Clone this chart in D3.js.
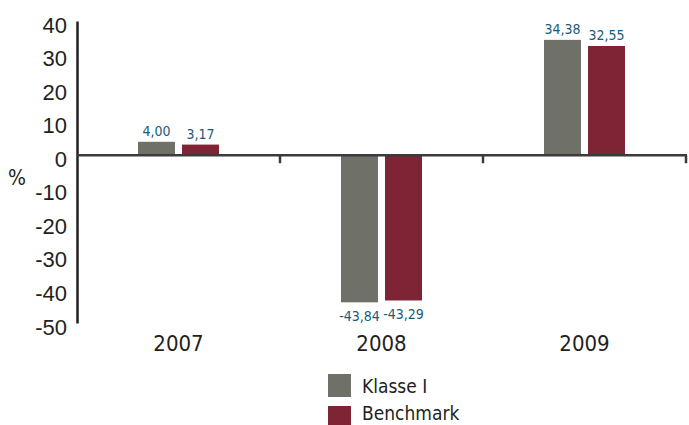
<!DOCTYPE html>
<html>
<head>
<meta charset="utf-8">
<script src="https://cdn.jsdelivr.net/npm/d3@7"></script>
<style>
  body { margin: 0; background: #fff; }
  svg { display: block; font-family: "DejaVu Sans", sans-serif; font-stretch: condensed; }
</style>
</head>
<body>
<div id="chart"></div>
<script>
// data
const years = ['2007', '2008', '2009'];
const seriesNames = ['Klasse I', 'Benchmark'];
const klasse = [4.00, -43.84, 34.38];
const benchmark = [3.17, -43.29, 32.55];
const yTicks = [40, 30, 20, 10, 0, -10, -20, -30, -40, -50];

const colors = ['#6f7068', '#7e2434'];
const width = 689;
const height = 425;

const svg = d3.select('#chart').append('svg')
  .attr('width', width)
  .attr('height', height);

const x = d3.scaleBand()
  .domain(years)
  .range([77, 686]);

const xInner = d3.scaleBand()
  .domain(seriesNames)
  .range([0, 81])
  .paddingInner(0.16);

const y = d3.scaleLinear()
  .domain([-50, 40])
  .range([323, 21]);

const fmt = function(v) { return v.toFixed(2).replace('.', ','); };

const groups = svg.append('g')
  .selectAll('g')
  .data(years)
  .enter()
  .append('g')
  .attr('transform', function(d) { return 'translate(' + (x(d) + x.bandwidth() / 2 - 40.5) + ',0)'; });

groups.each(function(yr, i) {
  const vals = [klasse[i], benchmark[i]];
  const g = d3.select(this);
  g.selectAll('rect')
    .data(vals)
    .enter()
    .append('rect')
    .attr('x', function(d, j) { return xInner(seriesNames[j]); })
    .attr('width', xInner.bandwidth())
    .attr('y', function(d) { return y(Math.max(0, d)); })
    .attr('height', function(d) { return Math.abs(y(d) - y(0)); })
    .attr('fill', function(d, j) { return colors[j]; });

  g.selectAll('text')
    .data(vals)
    .enter()
    .append('text')
    .attr('x', function(d, j) { return xInner(seriesNames[j]) + xInner.bandwidth() / 2; })
    .attr('y', function(d) { return d >= 0 ? y(d) - 6 : y(d) + 19; })
    .attr('text-anchor', 'middle')
    .attr('font-size', 14)
    .attr('fill', '#1d5a78')
    .text(fmt);
});

// y axis
const yAxis = d3.axisLeft(y)
  .tickValues(yTicks)
  .tickFormat(function(d) { return String(d); })
  .tickSize(0)
  .tickPadding(10);

const ya = svg.append('g')
  .attr('transform', 'translate(77,0)')
  .call(yAxis);
ya.select('.domain').attr('stroke', '#231f20').attr('stroke-width', 2.5);
ya.selectAll('text')
  .attr('font-size', 22)
  .attr('fill', '#231f20')
  .attr('dy', '0.5em');

// zero line with category ticks
const xa = svg.append('g')
  .attr('transform', 'translate(0,' + y(0) + ')');
xa.append('line')
  .attr('x1', 77)
  .attr('x2', 687)
  .attr('stroke', '#3b3b3b')
  .attr('stroke-width', 2.5);
xa.selectAll('.sep')
  .data(years.slice(1).concat(['end']))
  .enter()
  .append('line')
  .attr('class', 'sep')
  .attr('x1', function(d, i) { return i < 2 ? x(d) : x.range()[1]; })
  .attr('x2', function(d, i) { return i < 2 ? x(d) : x.range()[1]; })
  .attr('y1', 0)
  .attr('y2', 8)
  .attr('stroke', '#3b3b3b')
  .attr('stroke-width', 2.5);

// category labels
svg.append('g')
  .selectAll('text')
  .data(years)
  .enter()
  .append('text')
  .attr('x', function(d) { return x(d) + x.bandwidth() / 2; })
  .attr('y', 351)
  .attr('text-anchor', 'middle')
  .attr('font-size', 22)
  .attr('fill', '#231f20')
  .text(function(d) { return d; });

// unit label
svg.append('text')
  .attr('x', 17)
  .attr('y', 185)
  .attr('text-anchor', 'middle')
  .attr('font-size', 21)
  .attr('fill', '#231f20')
  .text('%');

// legend
const legend = svg.append('g')
  .selectAll('g')
  .data(seriesNames)
  .enter()
  .append('g')
  .attr('transform', function(d, i) { return 'translate(328,' + (374 + i * 32) + ')'; });

legend.append('rect')
  .attr('width', 23)
  .attr('height', function(d, i) { return i === 0 ? 23 : 19; })
  .attr('fill', function(d, i) { return colors[i]; });

legend.append('text')
  .attr('x', 34)
  .attr('y', function(d, i) { return i === 0 ? 19 : 14; })
  .attr('font-size', 19)
  .attr('fill', '#231f20')
  .text(function(d) { return d; });
</script>
</body>
</html>
